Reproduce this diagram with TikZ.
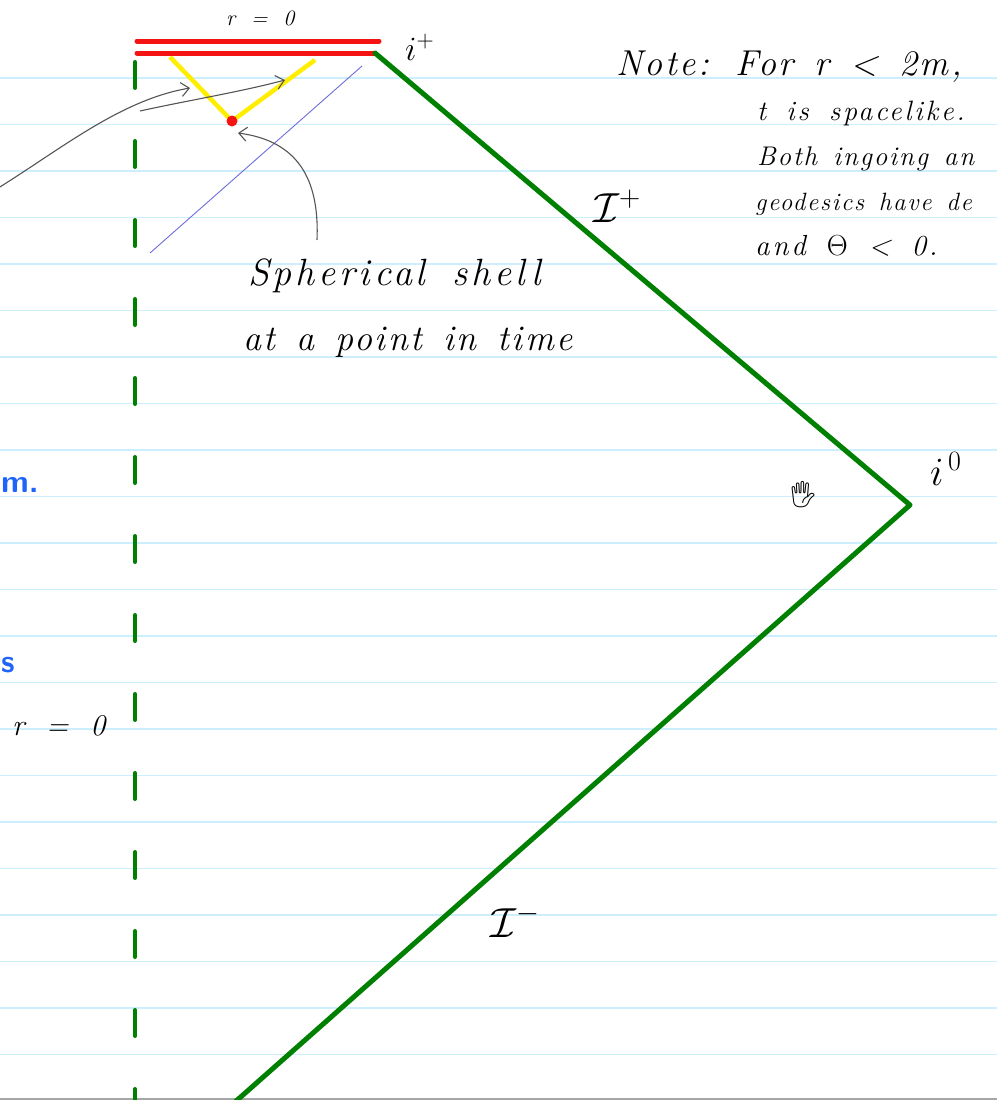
\RequirePackage{fix-cm}
\documentclass[tikz,border=0pt]{standalone}
\usepackage{fontspec}
\newfontfamily\emojifont{Noto Emoji}
\newfontfamily\handfont[LetterSpace=10,WordSpace=1.6]{Latin Modern Roman}
\newfontfamily\handtight[LetterSpace=7,WordSpace=1.4]{Latin Modern Roman}
\usetikzlibrary{arrows.meta}
\definecolor{rulecol}{RGB}{205,238,252}
\definecolor{pgreen}{RGB}{0,128,0}
\definecolor{pred}{RGB}{245,20,20}
\definecolor{pyellow}{RGB}{255,238,0}
\definecolor{pblue}{RGB}{30,100,250}
\definecolor{pline}{RGB}{110,110,220}
\definecolor{pgray}{RGB}{85,85,85}
\tikzset{
  txt/.style={inner sep=0pt, anchor=base west, font=\handfont\fontsize{#1}{#1}\selectfont\itshape},
  ttxt/.style={inner sep=0pt, anchor=base west, font=\handtight\fontsize{#1}{#1}\selectfont\itshape},
  mtxt/.style={inner sep=0pt, anchor=base west, font=\fontsize{#1}{#1}\selectfont},
  bluetxt/.style={inner sep=0pt, anchor=base west, text=pblue, font=\fontsize{32pt}{32pt}\selectfont\sffamily\bfseries},
  ruled/.style={draw=rulecol, line width=1.6pt},
  conelines/.style={draw=pgreen, line width=5pt, line join=round, line cap=round},
  singular/.style={draw=pred, line width=5pt, line cap=round},
  shell/.style={draw=pyellow, line width=4.5pt},
  note/.style={draw=pgray, line width=1.1pt, -{Straight Barb[length=8pt,width=14pt]}}
}
\begin{document}
\begin{tikzpicture}[x=1pt,y=-1pt]
\useasboundingbox (0,0) rectangle (997,1100);
\clip (0,0) rectangle (997,1100);
\fill[white] (0,0) rectangle (997,1100);
% ruled lines
\foreach \k in {0,...,21} {
  \draw[ruled] (0,{78+46.5*\k}) -- (997,{78+46.5*\k});
}
\draw[gray!70, line width=2pt] (0,1098.5) -- (997,1098.5);
% coordinates
\coordinate (iplus) at (375,53);
\coordinate (izero) at (910,505);
\coordinate (past) at (235,1102);
\coordinate (axtop) at (135,62);
\coordinate (axbot) at (135,1105);
\coordinate (sL) at (170,57);
\coordinate (sR) at (315,60);
\coordinate (ev) at (232,121);
\coordinate (nullA) at (150,253);
\coordinate (nullB) at (362,66);
% r=0 axis dashed
\draw[draw=pgreen, line width=4pt, line cap=round, dash pattern=on 26pt off 53pt] (axtop) -- (axbot);
% light ray
\draw[pline, line width=0.9pt] (nullA) -- (nullB);
% shell light cone
\draw[shell] (sL) -- (ev) -- (sR);
% singularity
\draw[singular] (137,41) -- (379,41);
\draw[singular] (137,53) -- (iplus);
% scri
\draw[conelines] (iplus) -- (izero) -- (past);
\fill[pred] (ev) circle (5.5pt);
% annotation arrows
\coordinate (a1s) at (-5,190);
\coordinate (a1e) at (190,88);
\coordinate (a2s) at (140,111);
\coordinate (a2e) at (285,80);
\coordinate (a3s) at (317,240);
\coordinate (a3e) at (238,133);
\draw[note] (a1s) .. controls (60,150) and (120,100) .. (a1e);
\draw[note] (a2s) .. controls (190,100) and (240,92) .. (a2e);
\draw[note] (a3s) .. controls (320,170) and (290,140) .. (a3e);
% labels
\node[txt=22pt] (rzero) at (226,25) {r = 0};
\node[mtxt=34pt] (lipl) at (405,60) {$i^{+}$};
\node[mtxt=40pt] (lizero) at (930,485) {$i^{\,0}$};
\node[mtxt=42pt] (lscrip) at (593,222) {$\mathcal{I}^{+}$};
\node[mtxt=42pt] (lscrim) at (490,937) {$\mathcal{I}^{-}$};
\node[txt=38pt] (lsph1) at (248,285) {Spherical shell};
\node[ttxt=36pt] (lsph2) at (243,350) {at a point in time};
\node[ttxt=36pt] (ln1) at (616,75) {Note: For r < 2m,};
\node[txt=28pt] (ln2) at (757,120) {t is spacelike.};
\node[ttxt=27pt] (ln3) at (757,165) {Both ingoing an};
\node[ttxt=25pt] (ln4) at (755,210) {geodesics have de};
\node[txt=29pt] (ln5) at (755,255) {and $\Theta$ < 0.};
\node[txt=30pt] (lr0) at (12,735) {r = 0};
\node[bluetxt] (lm) at (1,492) {m.};
\node[bluetxt] (ls) at (1,672) {s};
\node[inner sep=0pt, font=\emojifont\fontsize{26pt}{26pt}\selectfont] (cursor) at (803,495) {🖐};
\end{tikzpicture}
\end{document}
